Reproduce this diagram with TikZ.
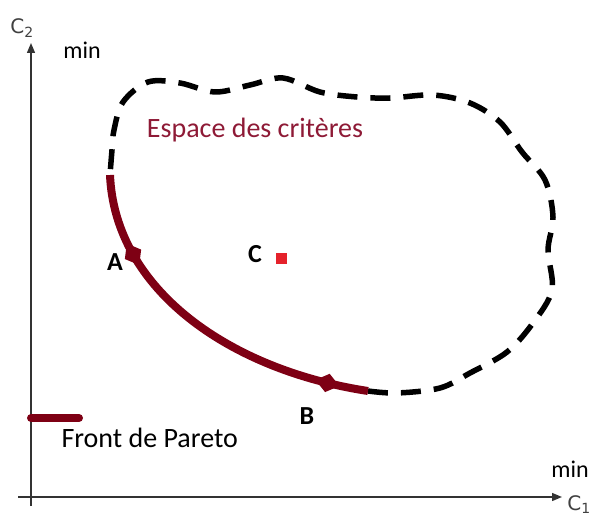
\documentclass[tikz,border=0pt]{standalone}
\usepackage{fontspec}
\setmainfont{Carlito}
\newfontfamily\axfont{DejaVu Sans}[Scale=1]
\usetikzlibrary{shapes.geometric,arrows.meta}
\definecolor{frontred}{HTML}{7E0014}
\definecolor{labred}{HTML}{8E1A36}
\definecolor{sqred}{HTML}{E5222B}
\tikzset{
  axisline/.style={line width=1.4pt, black!80, -{Triangle[length=10pt,width=8pt]}},
  frontline/.style={line width=8pt, frontred},
  outline/.style={line width=5.5pt, dash pattern=on 20pt off 13pt},
  ptlabel/.style={font=\fontsize{26}{30}\selectfont\bfseries},
  biglabel/.style={font=\fontsize{28}{32}\selectfont},
  minlabel/.style={font=\fontsize{24}{28}\selectfont},
  axlabel/.style={font=\axfont\fontsize{20}{24}\selectfont\color{black!75}},
  markdiam/.style={diamond, fill=frontred, draw=none, inner sep=0pt, minimum width=25pt, minimum height=19pt},
}
\begin{document}
\begin{tikzpicture}[x=1pt,y=-1pt]
\useasboundingbox (0,0) rectangle (594,516);
% axes
\coordinate (o1) at (18,497);
\coordinate (xend) at (562,497);
\coordinate (o2) at (31,506);
\coordinate (yend) at (31,43);
\draw[axisline] (o1) -- (xend);
\draw[axisline] (o2) -- (yend);
\node[axlabel] (c1) at (579,505) {C\textsubscript{1}};
\node[axlabel] (c2) at (22,28) {C\textsubscript{2}};
\node[minlabel] (min2) at (82,50) {min};
\node[minlabel] (min1) at (570,469) {min};
% criteria space outline
\coordinate (fs) at (110,175);
\coordinate (fe) at (368,391);
\draw[outline, line join=round] plot[smooth, tension=0.55] coordinates {
 (fe) (397,393) (440,388) (470,373) (507,352) (533,323) (552,290) (548,250)
 (553,217) (545,180) (522,152) (500,122) (470,103) (433,95) (390,98)
 (357,97) (320,92) (283,78) (250,85) (215,92) (180,83) (148,82) (123,102)
 (114,130) (112,150) (fs)};
\node[biglabel, text=labred] (esp) at (255,130) {Espace des critères};
% Pareto front
\draw[frontline] (fs) .. controls (115,290) and (230,370) .. (fe)
  coordinate[pos=0.25] (pa)
  coordinate[pos=0.9] (pb);
\node[markdiam, rotate=-60] (A) at (pa) {};
\node[markdiam, rotate=-14] (B) at (pb) {};
\node[ptlabel] (la) at (115,262) {A};
\node[ptlabel] (lb) at (307,416) {B};
\node[ptlabel] (lc) at (255,254) {C};
\node[fill=sqred, minimum size=11pt, inner sep=0pt] (C) at (281,258) {};
% legend
\coordinate (lg1) at (31,418);
\coordinate (lg2) at (79,418);
\draw[frontline, line cap=round] (lg1) -- (lg2);
\node[biglabel, anchor=west] (legend) at (58,438) {Front de Pareto};
\end{tikzpicture}
\end{document}
